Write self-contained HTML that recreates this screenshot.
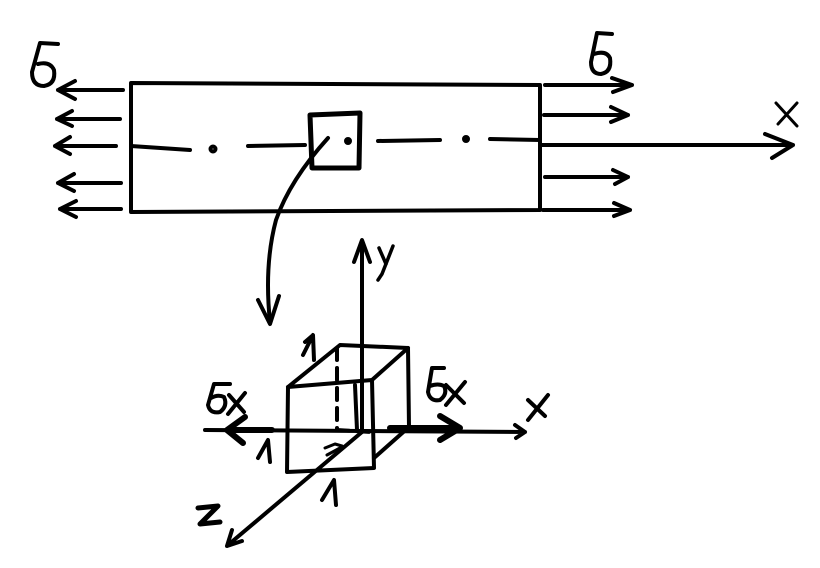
<!DOCTYPE html>
<html><head><style>html,body{margin:0;padding:0;background:#fff}svg{display:block}</style></head>
<body>
<svg width="820" height="568" viewBox="0 0 820 568" xmlns="http://www.w3.org/2000/svg">
<g fill="none" stroke="#000" stroke-width="4" stroke-linecap="round" stroke-linejoin="round">
<!-- bar -->
<path d="M131 83 L540 85 L540 210 L131 212 Z"/>
<!-- left arrows -->
<path d="M123 90 L58 90 M75 81 L58 90 L75 99"/>
<path d="M120 119 L57 119 M72 111 L57 119 L72 126"/>
<path d="M116 146 L55 146 M70 137 L55 146 L70 154"/>
<path d="M121 183 L58 183 M74 174 L58 183 L74 191"/>
<path d="M121 209 L60 209 M76 201 L60 209 L76 217"/>
<!-- right arrows -->
<path d="M545 85 L632 85 M612 78 L632 85 L613 92"/>
<path d="M544 115 L628 115 M611 107 L628 115 L611 122"/>
<path d="M542 145 L793 145 M765 134 L793 145 L772 158"/>
<path d="M545 177 L628 177 M613 170 L628 177 L615 184"/>
<path d="M543 210 L630 210 M614 203 L630 210 L614 216"/>
<!-- X label -->
<path d="M776 103 L797 126 M797 103 L778 124" stroke-width="3"/>
<!-- centre line -->
<path d="M131 146 L190 150 M248 146 L305 145 M378 141 L440 140 M490 139 L540 140"/>
<circle cx="213" cy="149" r="2.5"/>
<circle cx="348" cy="141" r="2" fill="#000"/>
<circle cx="466" cy="139" r="2" fill="#000"/>
<!-- small square -->
<path d="M310 115 L360 113 L359 168 L312 168 Z" stroke-width="5"/>
<!-- curved arrow -->
<path d="M328 138 Q290 180 276 220 Q264 265 270 322"/>
<path d="M258 300 L270 324 L279 296"/>
<!-- y axis -->
<path d="M362 432 L362 242 M354 262 L362 240 L370 262"/>
<path d="M379 248 L386 264 M393 246 L382 274 L378 280" stroke-width="3.5"/>
<!-- cube -->
<path d="M288 387 L372 380 L374 468 L287 472 Z"/>
<path d="M288 387 L340 345 L408 348 L409 427 L374 458"/>
<path d="M372 380 L408 348"/>
<path d="M337 348 L337 430 M337 430 L372 432" stroke-dasharray="12 8"/>
<path d="M355 385 L357 430" stroke-width="4"/>
<!-- x axis -->
<path d="M205 430 L525 432 M515 425 L525 432 L516 438"/>
<path d="M528 400 L545 416 M548 395 L528 420"/>
<!-- sigma x arrows thick -->
<path d="M272 430 L228 430 M245 417 L227 430 L243 443" stroke-width="6"/>
<path d="M390 428 L458 428 M440 416 L460 428 L440 440" stroke-width="6"/>
<!-- z axis -->
<path d="M362 432 L228 545 M232 530 L227 546 L242 541"/>
<!-- ones -->
<path d="M303 355 L313 335 L314 360 M305 342 L312 336"/>
<path d="M258 458 L268 440 L270 462"/>
<path d="M322 500 L334 480 L336 505"/>
<path d="M327 455 L340 448" stroke-width="3"/>
<path d="M325 448 L335 444 L342 446" stroke-width="3"/>
<!-- Z label -->
<path d="M198 508 L218 506 L200 524 L220 522" stroke-width="5"/>
<!-- sigma labels -->
<path d="M58 44 L40 43 L32 72 Q32 86 44 86 Q56 84 54 70 Q50 61 38 64"/>
<path d="M612 34 L597 33 L591 62 Q591 74 601 74 Q612 72 610 58 Q606 50 594 54"/>
<path d="M230 384 L214 384 L208 405 Q210 414 220 412 Q228 406 224 397 Q218 394 211 398"/>
<path d="M229 395 L244 412 M245 393 L228 414"/>
<path d="M444 368 L432 368 L428 392 Q430 402 440 400 Q448 394 444 386 Q438 383 430 386"/>
<path d="M446 385 L464 403 M465 382 L446 405"/>
</g>
</svg>
</body></html>
